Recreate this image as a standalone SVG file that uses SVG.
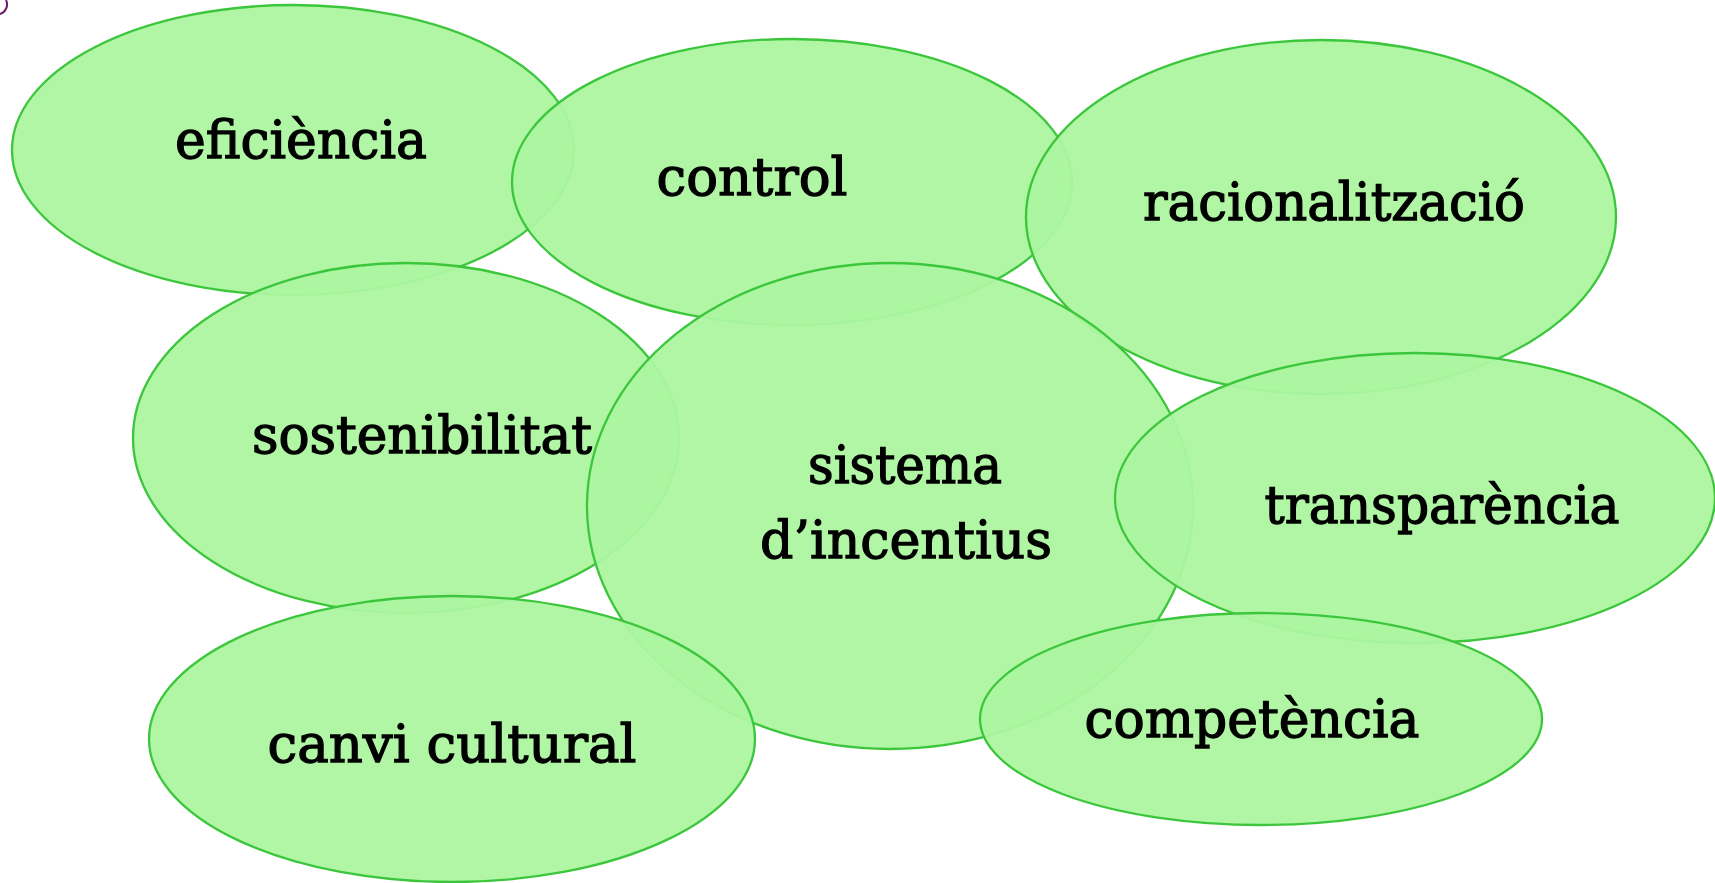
<svg xmlns="http://www.w3.org/2000/svg" width="1715" height="883" viewBox="0 0 1715 883">
<style>
.n{fill:#acf5a0;fill-opacity:0.95;stroke:#3cc63c;stroke-width:2.3}
.t{font-family:"DejaVu Serif","Liberation Serif",serif;font-size:52px;fill:#000;stroke:#000;stroke-width:1.3;text-anchor:middle}
</style>
<rect width="1715" height="883" fill="#ffffff"/>
<path d="M0,14 A10,10 0 0 0 6,0" fill="none" stroke="#6b1a6b" stroke-width="2"/>
<g id="connectors"></g>
<g id="eficiencia"><ellipse class="n" cx="293" cy="150" rx="281" ry="145"/><text class="t" x="301" y="158" textLength="252" lengthAdjust="spacingAndGlyphs">eficiència</text></g>
<g id="control"><ellipse class="n" cx="792" cy="182" rx="280" ry="143"/><text class="t" x="752" y="195" textLength="191" lengthAdjust="spacingAndGlyphs">control</text></g>
<g id="racionalitzacio"><ellipse class="n" cx="1321" cy="217" rx="295" ry="177"/><text class="t" x="1334" y="220" textLength="382" lengthAdjust="spacingAndGlyphs">racionalització</text></g>
<g id="sostenibilitat"><ellipse class="n" cx="406" cy="438" rx="273" ry="175"/><text class="t" x="422" y="453" textLength="340" lengthAdjust="spacingAndGlyphs">sostenibilitat</text></g>
<g id="sistema"><ellipse class="n" cx="890" cy="506" rx="303" ry="243"/><text class="t" x="905" y="483" textLength="194" lengthAdjust="spacingAndGlyphs">sistema</text><text class="t" x="906" y="558" textLength="292" lengthAdjust="spacingAndGlyphs">d’incentius</text></g>
<g id="transparencia"><ellipse class="n" cx="1415" cy="498" rx="300" ry="145"/><text class="t" x="1442" y="523" textLength="355" lengthAdjust="spacingAndGlyphs">transparència</text></g>
<g id="canvi"><ellipse class="n" cx="452" cy="739" rx="303" ry="143"/><text class="t" x="452" y="762" textLength="369" lengthAdjust="spacingAndGlyphs">canvi cultural</text></g>
<g id="competencia"><ellipse class="n" cx="1261" cy="719" rx="281" ry="106"/><text class="t" x="1252" y="737" textLength="335" lengthAdjust="spacingAndGlyphs">competència</text></g>
</svg>
